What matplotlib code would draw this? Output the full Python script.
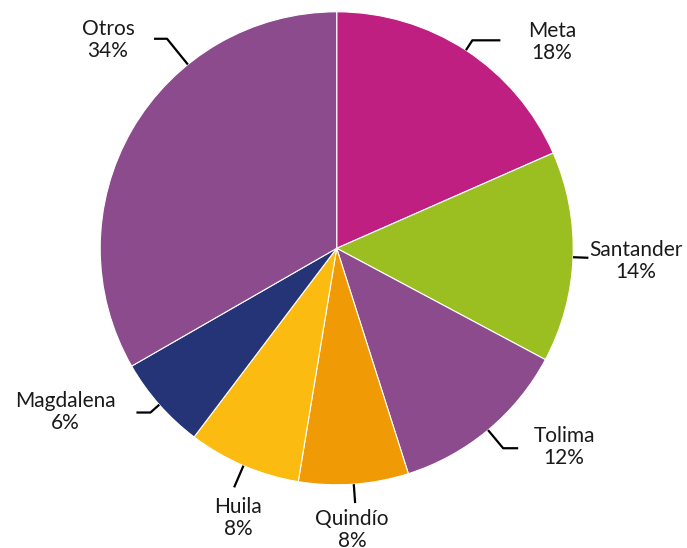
import numpy as np
import matplotlib
matplotlib.use("Agg")
import matplotlib.pyplot as plt

# datos (porcentajes)
departamentos = ["Meta", "Santander", "Tolima", "Quindío", "Huila", "Magdalena", "Otros"]
participacion = [18.4, 14.4, 12.3, 7.5, 7.7, 6.4, 33.3]
etiquetas_pct = ["18%", "14%", "12%", "8%", "8%", "6%", "34%"]
colores = ["#C01F82", "#9BBE20", "#8B4B8C", "#F09A06", "#FBBB10", "#243476", "#8B4B8C"]

# posicion de cada etiqueta: angulo propio (o None = mitad de la porcion),
# factor de radio del codo, largo del tramo horizontal, centro del texto (px)
guias = {
    "Meta":      (None, 1.05, 28, (552, 506)),
    "Santander": (None, 1.065, 0, (636, 287)),
    "Tolima":    (None, 1.10, 15, (564, 101)),
    "Quindío":   (None, 1.08, 0, (352, 18)),
    "Huila":     (None, 1.10, 0, (238, 30)),
    "Magdalena": (None, 1.05, -14, (65, 136)),
    "Otros":     (129.0, 1.14, -13, (108, 508)),
}

W, H = 687, 548
cx, cy, r = 336.7, 299.7, 236.5

fig = plt.figure(figsize=(W / 100, H / 100), dpi=100)
ax = fig.add_axes([0, 0, 1, 1])

wedges, _ = ax.pie(participacion, colors=colores, startangle=90, counterclock=False,
                   center=(cx, cy), radius=r, frame=True,
                   wedgeprops=dict(edgecolor="white", linewidth=0.8))

for w, nombre, pct in zip(wedges, departamentos, etiquetas_pct):
    ang, k, hlen, (tx, ty) = guias[nombre]
    if ang is None:
        ang = (w.theta1 + w.theta2) / 2
    a = np.radians(ang)
    x0, y0 = cx + r * np.cos(a), cy + r * np.sin(a)
    x1, y1 = cx + k * r * np.cos(a), cy + k * r * np.sin(a)
    xs = [x0, x1]
    ys = [y0, y1]
    if hlen:
        xs.append(x1 + hlen)
        ys.append(y1)
    ax.plot(xs, ys, color="black", lw=1.6, solid_capstyle="butt")
    ax.text(tx, ty, f"{nombre}\n{pct}", ha="center", va="center",
            fontsize=15, family="Lato", color="#1a1a1a", linespacing=1.12)

ax.set_xlim(0, W)
ax.set_ylim(0, H)
ax.set_aspect("equal")
ax.axis("off")

fig.savefig("out.png", dpi=100)
